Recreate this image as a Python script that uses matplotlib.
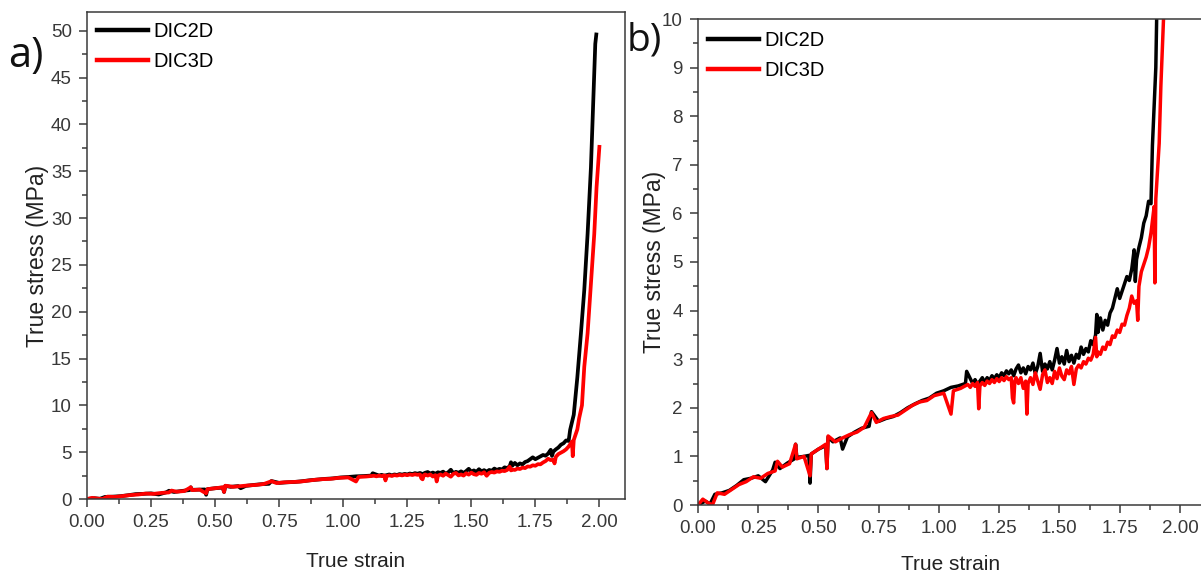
import matplotlib
matplotlib.use("Agg")
import matplotlib.pyplot as plt
from matplotlib.ticker import MultipleLocator, FormatStrFormatter

# ---- data ----
strain_2d = [0.00, 0.03, 0.05, 0.07, 0.10, 0.13, 0.16, 0.19, 0.22, 0.25, 0.28, 0.31, 0.32, 0.34,
             0.37, 0.40, 0.405, 0.41, 0.44, 0.46, 0.465, 0.47, 0.50, 0.53, 0.535, 0.54, 0.56, 0.59,
             0.60, 0.62, 0.65, 0.68, 0.71, 0.72, 0.75, 0.78, 0.81, 0.84, 0.87, 0.90, 0.93, 0.96,
             0.99, 1.02, 1.05, 1.08, 1.11, 1.115, 1.14, 1.15, 1.16, 1.17, 1.18, 1.19, 1.20, 1.21,
             1.22, 1.23, 1.24, 1.25, 1.26, 1.27, 1.28, 1.29, 1.30, 1.31, 1.32, 1.33, 1.34, 1.35,
             1.36, 1.37, 1.38, 1.39, 1.40, 1.41, 1.42, 1.43, 1.44, 1.45, 1.46, 1.47, 1.48, 1.49,
             1.50, 1.51, 1.52, 1.53, 1.54, 1.55, 1.56, 1.57, 1.58, 1.59, 1.60, 1.61, 1.62, 1.63,
             1.64, 1.65, 1.655, 1.66, 1.67, 1.68, 1.69, 1.70, 1.71, 1.72, 1.73, 1.74, 1.75, 1.76,
             1.77, 1.78, 1.79, 1.80, 1.81, 1.815, 1.82, 1.83, 1.84, 1.85, 1.86, 1.87, 1.88, 1.886,
             1.90, 1.914, 1.928, 1.941, 1.954, 1.967, 1.976, 1.984, 1.988]
stress_2d = [0.00, 0.08, 0.02, 0.22, 0.25, 0.30, 0.40, 0.52, 0.55, 0.60, 0.48, 0.72, 0.88, 0.75,
             0.86, 0.95, 1.25, 0.98, 1.00, 1.02, 0.45, 1.05, 1.15, 1.22, 0.75, 1.40, 1.30, 1.38,
             1.15, 1.40, 1.50, 1.58, 1.62, 1.92, 1.72, 1.78, 1.82, 1.90, 2.00, 2.08, 2.15, 2.20,
             2.30, 2.35, 2.42, 2.45, 2.50, 2.75, 2.50, 2.58, 2.48, 2.55, 2.62, 2.52, 2.62, 2.56,
             2.66, 2.60, 2.68, 2.62, 2.72, 2.66, 2.76, 2.70, 2.78, 2.66, 2.80, 2.88, 2.72, 2.82,
             2.70, 2.85, 2.78, 2.92, 2.70, 2.85, 3.12, 2.75, 2.90, 2.80, 2.95, 2.78, 2.98, 3.22,
             2.92, 3.05, 2.90, 3.18, 2.95, 3.08, 2.92, 3.10, 3.02, 3.25, 3.10, 3.22, 3.15, 3.38,
             3.30, 3.50, 3.92, 3.55, 3.85, 3.60, 3.80, 3.70, 3.95, 4.05, 4.25, 4.45, 4.25, 4.40,
             4.55, 4.70, 4.62, 4.85, 5.25, 4.60, 5.05, 5.30, 5.50, 5.80, 5.95, 6.25, 6.20, 7.40,
             9.00, 13.0, 17.7, 22.3, 28.3, 35.4, 42.5, 48.6, 49.6]

strain_3d = [0.00, 0.02, 0.04, 0.06, 0.08, 0.11, 0.14, 0.17, 0.20, 0.23, 0.26, 0.29, 0.32, 0.33,
             0.35, 0.38, 0.405, 0.41, 0.44, 0.465, 0.47, 0.50, 0.53, 0.535, 0.54, 0.57, 0.60, 0.63,
             0.66, 0.69, 0.72, 0.74, 0.77, 0.80, 0.83, 0.86, 0.89, 0.92, 0.95, 0.98, 1.02, 1.05,
             1.06, 1.09, 1.12, 1.13, 1.14, 1.15, 1.16, 1.165, 1.17, 1.18, 1.19, 1.20, 1.21, 1.22,
             1.23, 1.24, 1.25, 1.26, 1.27, 1.28, 1.29, 1.30, 1.305, 1.31, 1.315, 1.32, 1.33, 1.34,
             1.35, 1.36, 1.365, 1.37, 1.38, 1.39, 1.40, 1.41, 1.42, 1.43, 1.44, 1.45, 1.46, 1.47,
             1.48, 1.49, 1.50, 1.51, 1.52, 1.53, 1.54, 1.55, 1.56, 1.57, 1.58, 1.59, 1.60, 1.61,
             1.62, 1.63, 1.64, 1.65, 1.655, 1.66, 1.67, 1.68, 1.69, 1.70, 1.71, 1.72, 1.73, 1.74,
             1.75, 1.76, 1.77, 1.78, 1.79, 1.80, 1.81, 1.82, 1.825, 1.83, 1.84, 1.85, 1.86, 1.87,
             1.88, 1.893, 1.896, 1.90, 1.914, 1.921, 1.932, 1.941, 1.954, 1.967, 1.980, 1.989, 2.00]
stress_3d = [0.00, 0.12, 0.05, 0.00, 0.25, 0.22, 0.32, 0.42, 0.48, 0.58, 0.55, 0.65, 0.70, 0.90,
             0.78, 0.85, 1.25, 0.95, 1.00, 0.60, 1.05, 1.15, 1.25, 0.75, 1.42, 1.30, 1.38, 1.45,
             1.50, 1.60, 1.90, 1.70, 1.78, 1.82, 1.85, 1.95, 2.05, 2.12, 2.15, 2.25, 2.30, 1.87,
             2.35, 2.40, 2.48, 2.42, 2.50, 2.44, 2.52, 1.98, 2.45, 2.52, 2.46, 2.55, 2.50, 2.58,
             2.52, 2.60, 2.54, 2.62, 2.56, 2.64, 2.58, 2.62, 2.20, 2.10, 2.55, 2.62, 2.50, 2.62,
             2.40, 2.55, 1.87, 2.50, 2.62, 2.48, 2.72, 2.55, 2.38, 2.68, 2.78, 2.52, 2.62, 2.50,
             2.75, 2.60, 2.82, 2.65, 2.58, 2.78, 2.70, 2.85, 2.48, 2.80, 2.88, 2.82, 2.95, 2.90,
             3.02, 2.98, 3.10, 3.45, 3.05, 3.15, 3.10, 3.25, 3.20, 3.35, 3.30, 3.48, 3.45, 3.60,
             3.55, 3.72, 3.70, 3.90, 4.05, 4.30, 4.15, 4.20, 3.80, 4.50, 4.80, 4.95, 5.10, 5.30,
             5.60, 6.14, 4.57, 6.30, 7.44, 8.62, 10.0, 14.1, 17.7, 23.0, 28.3, 33.3, 37.6]

labels = ["DIC2D", "DIC3D"]
panel_tags = ["a)", "b)"]
x_label = "True strain"
y_label = "True stress (MPa)"

# ---- styling ----
tick_font = ["Liberation Sans", "DejaVu Sans"]
label_font = ["Liberation Sans", "DejaVu Sans"]
spine_col = "#3a3a3a"

fig = plt.figure(figsize=(12.01, 5.76), dpi=100)
ax_a = fig.add_axes([87/1201, 1-499/576, (625-87)/1201, (499-12)/576])
ax_b = fig.add_axes([698/1201, 1-505/576, (1204-698)/1201, (505-19)/576])

def style(ax, ymax, ymaj, ymin, lw, xlabelpad, ylabelpad, leg_anchor):
    ax.plot(strain_2d, stress_2d, color="black", lw=lw, label=labels[0])
    ax.plot(strain_3d, stress_3d, color="#ff0000", lw=lw, label=labels[1])
    ax.set_xlim(0, 2.1)
    ax.set_ylim(0, ymax)
    ax.xaxis.set_major_locator(MultipleLocator(0.25))
    ax.xaxis.set_minor_locator(MultipleLocator(0.125))
    ax.xaxis.set_major_formatter(FormatStrFormatter("%.2f"))
    ax.yaxis.set_major_locator(MultipleLocator(ymaj))
    ax.yaxis.set_minor_locator(MultipleLocator(ymin))
    ax.tick_params(which="both", direction="out", colors=spine_col, width=1.1)
    ax.tick_params(which="major", length=6, labelsize=13.5, labelcolor="#383838", pad=5)
    ax.tick_params(which="minor", length=3.5)
    for t in ax.get_xticklabels() + ax.get_yticklabels():
        t.set_family(tick_font)
    for s in ax.spines.values():
        s.set_color(spine_col)
        s.set_linewidth(1.1)
    ax.set_xlabel(x_label, fontsize=15, family=label_font, color="#222222", labelpad=xlabelpad)
    ax.set_ylabel(y_label, fontsize=16.5, family=label_font, color="#222222", labelpad=ylabelpad)
    leg = ax.legend(loc="upper left", bbox_to_anchor=leg_anchor, frameon=False,
                    handlelength=2.55, handletextpad=0.25, labelspacing=0.55,
                    borderaxespad=0.0, borderpad=0.0,
                    prop={"family": label_font, "size": 14.5})
    for h in leg.get_lines():
        h.set_linewidth(3.2)
    return leg

style(ax_a, 52, 5, 2.5, 2.7, 15, 1, (10/538, 1-10/487))
style(ax_b, 10, 1, 0.5, 2.5, 13, -3, (10/506, 1-12/486))

fig.text(8/1201, 1-56/576, panel_tags[0], fontsize=30, family=["Open Sans", "DejaVu Sans"],
         va="center", ha="left", color="#111111")
fig.text(627/1201, 1-41/576, panel_tags[1], fontsize=28, family=["Open Sans", "DejaVu Sans"],
         va="center", ha="left", color="#111111")

fig.savefig("out.png", dpi=100)
